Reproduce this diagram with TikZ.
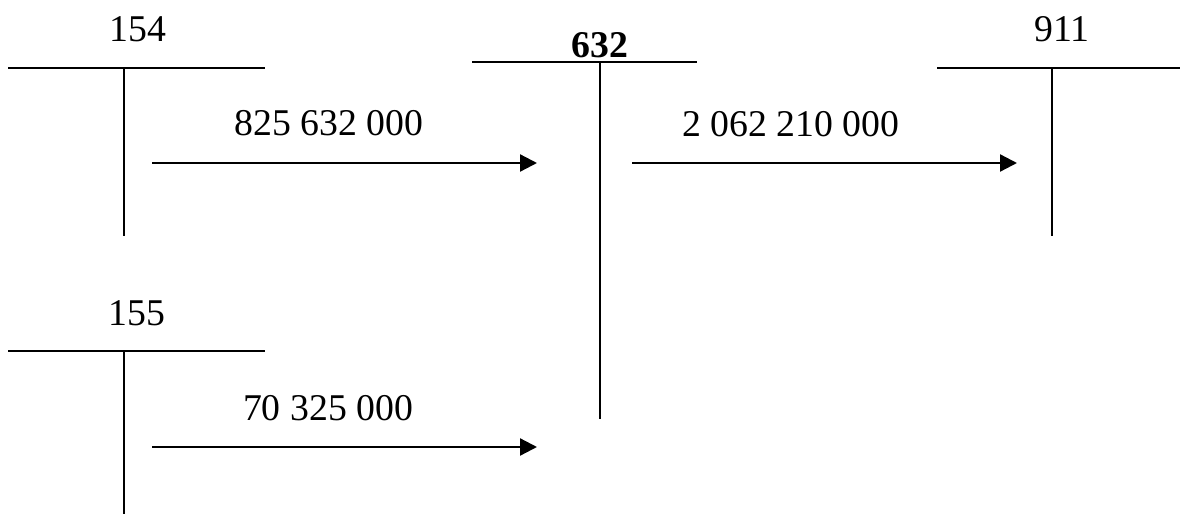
\documentclass[tikz,border=0pt]{standalone}
\usepackage{fontspec}
\setmainfont{Liberation Serif}
\usetikzlibrary{arrows.meta}

\begin{document}
\begin{tikzpicture}
[x=0.02cm,y=-0.02cm,line width=1.3pt]
\tikzstyle{account}=[anchor=base,inner sep=0,font=\fontsize{21.5}{24}\selectfont]
\tikzstyle{amount}=[anchor=base,inner sep=0,font=\fontsize{21.5}{24}\selectfont]
\tikzstyle{flow}=[-{Triangle[length=0.34cm,width=0.34cm]}]

\useasboundingbox (0,0) rectangle (1187,514);

% account 154
\coordinate(a154l) at (8,68);
\coordinate(a154r) at (265,68);
\coordinate(a154t) at (124,68);
\coordinate(a154b) at (124,236);
\node(n154)[account] at (138,41) {154};
\draw (a154l) -- (a154r);
\draw (a154t) -- (a154b);

% account 155
\coordinate(a155l) at (8,351);
\coordinate(a155r) at (265,351);
\coordinate(a155t) at (124,351);
\coordinate(a155b) at (124,514);
\node(n155)[account] at (137,325) {155};
\draw (a155l) -- (a155r);
\draw (a155t) -- (a155b);

% account 632
\coordinate(a632l) at (472,62);
\coordinate(a632r) at (697,62);
\coordinate(a632t) at (600,62);
\coordinate(a632b) at (600,419);
\node(n632)[account,font=\fontsize{21.5}{24}\selectfont\bfseries] at (600,57) {632};
\draw (a632l) -- (a632r);
\draw (a632t) -- (a632b);

% account 911
\coordinate(a911l) at (937,68);
\coordinate(a911r) at (1180,68);
\coordinate(a911t) at (1052,68);
\coordinate(a911b) at (1052,236);
\node(n911)[account] at (1062,41) {911};
\draw (a911l) -- (a911r);
\draw (a911t) -- (a911b);

% transfers
\coordinate(f1s) at (152,163);
\coordinate(f1e) at (537,163);
\coordinate(f2s) at (632,163);
\coordinate(f2e) at (1017,163);
\coordinate(f3s) at (152,447);
\coordinate(f3e) at (537,447);
\draw[flow] (f1s) -- (f1e);
\draw[flow] (f2s) -- (f2e);
\draw[flow] (f3s) -- (f3e);
\node(m1)[amount] at (329,135) {825 632 000};
\node(m2)[amount] at (791,136) {2 062 210 000};
\node(m3)[amount] at (328,420) {70 325 000};
\end{tikzpicture}
\end{document}
